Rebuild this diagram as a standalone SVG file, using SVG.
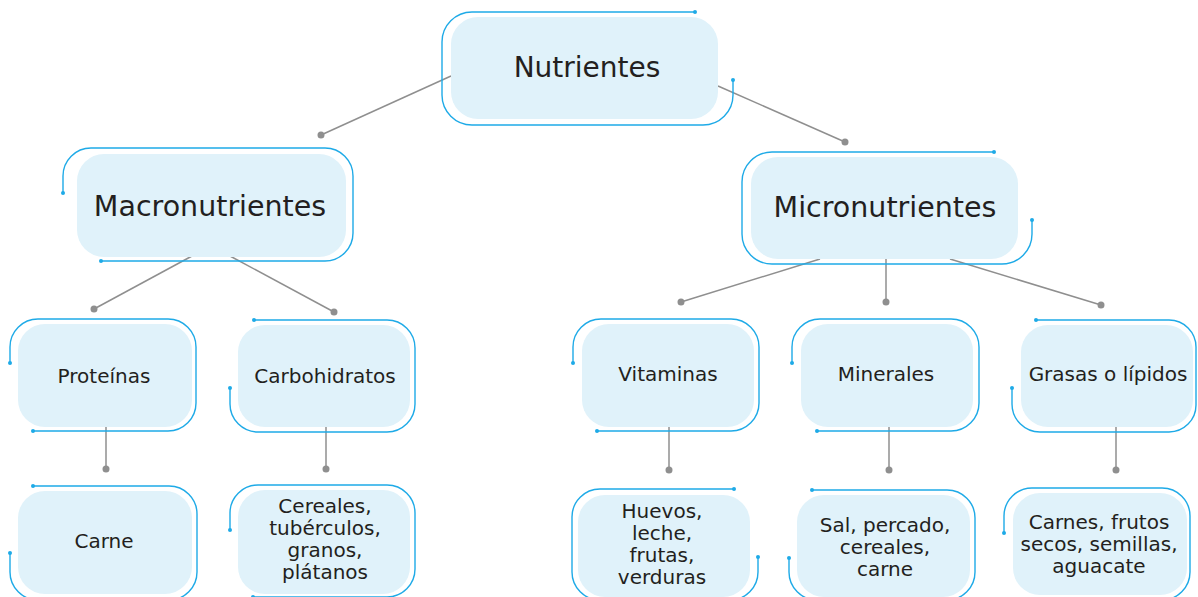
<svg xmlns="http://www.w3.org/2000/svg" width="1198" height="597" viewBox="0 0 1198 597">
<style>
.fill{fill:#e0f2fa;stroke:none}
.ol{fill:none;stroke:#1eaae7;stroke-width:1.4}
.od{fill:#1eaae7}
.cn{stroke:#8f8f8f;stroke-width:1.5;fill:none}
.cd{fill:#8f8f8f}
text{font-family:"DejaVu Sans","Liberation Sans",sans-serif;fill:#231f20;text-anchor:middle}
.t1{font-size:28px}
.t2{font-size:28.5px}
.t3{font-size:20px}
</style>
<rect width="1198" height="597" fill="#ffffff"/>
<g id="connectors">
<line class="cn" x1="451" y1="76" x2="321" y2="135"/><circle class="cd" cx="321" cy="135" r="3.5"/>
<line class="cn" x1="718" y1="86" x2="845" y2="142"/><circle class="cd" cx="845" cy="142" r="3.5"/>
<line class="cn" x1="192" y1="256" x2="94" y2="309"/><circle class="cd" cx="94" cy="309" r="3.5"/>
<line class="cn" x1="230" y1="256" x2="334" y2="312"/><circle class="cd" cx="334" cy="312" r="3.5"/>
<line class="cn" x1="820" y1="259" x2="681" y2="302"/><circle class="cd" cx="681" cy="302" r="3.5"/>
<line class="cn" x1="886" y1="259" x2="886" y2="302"/><circle class="cd" cx="886" cy="302" r="3.5"/>
<line class="cn" x1="950" y1="259" x2="1101" y2="305"/><circle class="cd" cx="1101" cy="305" r="3.5"/>
<line class="cn" x1="106" y1="427" x2="106" y2="469"/><circle class="cd" cx="106" cy="469" r="3.5"/>
<line class="cn" x1="326" y1="427" x2="326" y2="469"/><circle class="cd" cx="326" cy="469" r="3.5"/>
<line class="cn" x1="669" y1="427" x2="669" y2="470"/><circle class="cd" cx="669" cy="470" r="3.5"/>
<line class="cn" x1="889" y1="427" x2="889" y2="470"/><circle class="cd" cx="889" cy="470" r="3.5"/>
<line class="cn" x1="1116" y1="427" x2="1116" y2="470"/><circle class="cd" cx="1116" cy="470" r="3.5"/>
</g>
<g id="nutrientes">
<path class="ol" d="M695,12 H472 A30,30 0 0 0 442,42 V95 A30,30 0 0 0 472,125 H703 A30,30 0 0 0 733,95 V80"/>
<circle class="od" cx="695" cy="12" r="2"/><circle class="od" cx="733" cy="80" r="2"/>
<rect class="fill" x="451" y="17" width="267" height="102" rx="27"/>
<text class="t1" x="587" y="77">Nutrientes</text>
</g>
<g id="macronutrientes">
<path class="ol" d="M63,193 V176 A28,28 0 0 1 91,148 H325 A28,28 0 0 1 353,176 V233 A28,28 0 0 1 325,261 H101"/>
<circle class="od" cx="63" cy="193" r="2"/><circle class="od" cx="101" cy="261" r="2"/>
<rect class="fill" x="77" y="154" width="269" height="103" rx="27"/>
<text class="t2" x="210" y="216">Macronutrientes</text>
</g>
<g id="micronutrientes">
<path class="ol" d="M994,152 H772 A30,30 0 0 0 742,182 V234 A30,30 0 0 0 772,264 H1002 A30,30 0 0 0 1032,234 V220"/>
<circle class="od" cx="994" cy="152" r="2"/><circle class="od" cx="1032" cy="220" r="2"/>
<rect class="fill" x="751" y="157" width="267" height="102" rx="27"/>
<text class="t2" x="885" y="217">Micronutrientes</text>
</g>
<g id="proteinas">
<path class="ol" d="M10,363 V347 A28,28 0 0 1 38,319 H168 A28,28 0 0 1 196,347 V403 A28,28 0 0 1 168,431 H33"/>
<circle class="od" cx="10" cy="363" r="2"/><circle class="od" cx="33" cy="431" r="2"/>
<rect class="fill" x="18" y="324" width="174" height="103" rx="27"/>
<text class="t3" x="104" y="383">Proteínas</text>
</g>
<g id="carbohidratos">
<path class="ol" d="M254,320 H387 A28,28 0 0 1 415,348 V404 A28,28 0 0 1 387,432 H258 A28,28 0 0 1 230,404 V388"/>
<circle class="od" cx="254" cy="320" r="2"/><circle class="od" cx="230" cy="388" r="2"/>
<rect class="fill" x="238" y="325" width="172" height="102" rx="27"/>
<text class="t3" x="325" y="383">Carbohidratos</text>
</g>
<g id="vitaminas">
<path class="ol" d="M573,363 V347 A28,28 0 0 1 601,319 H731 A28,28 0 0 1 759,347 V403 A28,28 0 0 1 731,431 H597"/>
<circle class="od" cx="573" cy="363" r="2"/><circle class="od" cx="597" cy="431" r="2"/>
<rect class="fill" x="582" y="324" width="172" height="103" rx="27"/>
<text class="t3" x="668" y="381">Vitaminas</text>
</g>
<g id="minerales">
<path class="ol" d="M792,363 V347 A28,28 0 0 1 820,319 H951 A28,28 0 0 1 979,347 V403 A28,28 0 0 1 951,431 H817"/>
<circle class="od" cx="792" cy="363" r="2"/><circle class="od" cx="817" cy="431" r="2"/>
<rect class="fill" x="801" y="324" width="172" height="103" rx="27"/>
<text class="t3" x="886" y="381">Minerales</text>
</g>
<g id="grasas">
<path class="ol" d="M1036,320 H1169 A27,27 0 0 1 1196,347 V405 A27,27 0 0 1 1169,432 H1040 A28,28 0 0 1 1012,404 V388"/>
<circle class="od" cx="1036" cy="320" r="2"/><circle class="od" cx="1012" cy="388" r="2"/>
<rect class="fill" x="1021" y="325" width="172" height="102" rx="27"/>
<text class="t3" x="1108" y="381">Grasas o lípidos</text>
</g>
<g id="carne">
<path class="ol" d="M33,486 H169 A28,28 0 0 1 197,514 V572 A28,28 0 0 1 169,600 H38 A28,28 0 0 1 10,572 V553"/>
<circle class="od" cx="33" cy="486" r="2"/><circle class="od" cx="10" cy="553" r="2"/>
<rect class="fill" x="18" y="491" width="174" height="103" rx="27"/>
<text class="t3" x="104" y="548">Carne</text>
</g>
<g id="cereales">
<path class="ol" d="M230,530 V513 A28,28 0 0 1 258,485 H387 A28,28 0 0 1 415,513 V569 A28,28 0 0 1 387,597 H253"/>
<circle class="od" cx="230" cy="530" r="2"/><circle class="od" cx="253" cy="597" r="2"/>
<rect class="fill" x="238" y="490" width="172" height="104" rx="27"/>
<text class="t3" x="325"><tspan x="325" y="513">Cereales,</tspan><tspan x="325" y="535">tubérculos,</tspan><tspan x="325" y="557">granos,</tspan><tspan x="325" y="579">plátanos</tspan></text>
</g>
<g id="huevos">
<path class="ol" d="M734,489 H600 A28,28 0 0 0 572,517 V572 A28,28 0 0 0 600,600 H730 A28,28 0 0 0 758,572 V557"/>
<circle class="od" cx="734" cy="489" r="2"/><circle class="od" cx="758" cy="557" r="2"/>
<rect class="fill" x="578" y="495" width="172" height="102" rx="27"/>
<text class="t3" x="662"><tspan x="662" y="518">Huevos,</tspan><tspan x="662" y="540">leche,</tspan><tspan x="662" y="562">frutas,</tspan><tspan x="662" y="584">verduras</tspan></text>
</g>
<g id="sal">
<path class="ol" d="M812,490 H947 A28,28 0 0 1 975,518 V572 A28,28 0 0 1 947,600 H817 A28,28 0 0 1 789,572 V558"/>
<circle class="od" cx="812" cy="490" r="2"/><circle class="od" cx="789" cy="558" r="2"/>
<rect class="fill" x="797" y="495" width="173" height="102" rx="27"/>
<text class="t3" x="885"><tspan x="885" y="532">Sal, percado,</tspan><tspan x="885" y="554">cereales,</tspan><tspan x="885" y="576">carne</tspan></text>
</g>
<g id="carnes">
<path class="ol" d="M1004,533 V516 A28,28 0 0 1 1032,488 H1162 A28,28 0 0 1 1190,516 V572 A28,28 0 0 1 1162,600 H1030"/>
<circle class="od" cx="1004" cy="533" r="2"/>
<rect class="fill" x="1013" y="493" width="174" height="102" rx="27"/>
<text class="t3" x="1099"><tspan x="1099" y="529">Carnes, frutos</tspan><tspan x="1099" y="551">secos, semillas,</tspan><tspan x="1099" y="573">aguacate</tspan></text>
</g>
</svg>
